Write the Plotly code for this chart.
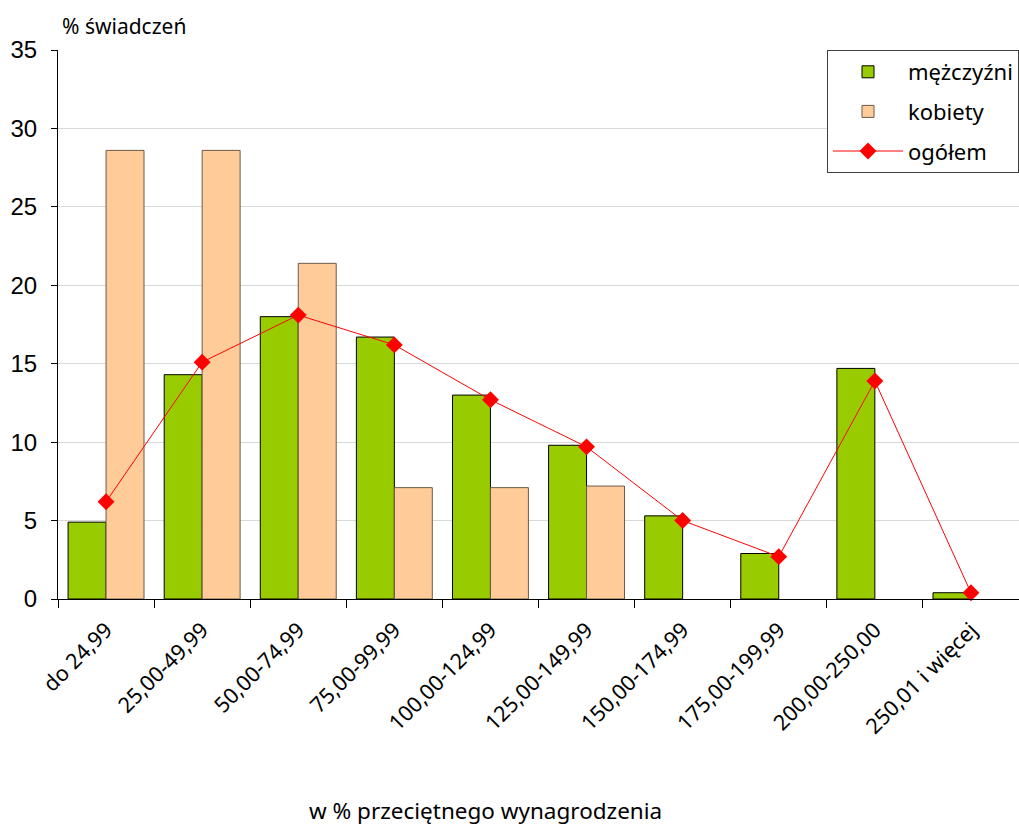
import plotly.graph_objects as go

categories = ["do 24,99", "25,00-49,99", "50,00-74,99", "75,00-99,99", "100,00-124,99",
              "125,00-149,99", "150,00-174,99", "175,00-199,99", "200,00-250,00", "250,01 i więcej"]
men = [4.9, 14.3, 18.0, 16.7, 13.0, 9.8, 5.3, 2.9, 14.7, 0.4]
women = [28.6, 28.6, 21.4, 7.1, 7.1, 7.2, None, None, None, None]
total = [6.2, 15.1, 18.1, 16.2, 12.7, 9.7, 5.0, 2.7, 13.9, 0.4]
y_ticks = [0, 5, 10, 15, 20, 25, 30, 35]

fig = go.Figure()
fig.add_trace(go.Bar(x=categories, y=men, name="mężczyźni", legendgroup="a",
                     marker=dict(color="#99CC00", line=dict(color="#000000", width=1))))
fig.add_trace(go.Bar(x=categories, y=women, name="kobiety", legendgroup="b",
                     marker=dict(color="#FFCC99", line=dict(color="#6b5a4a", width=1))))
fig.add_trace(go.Scatter(x=categories, y=total, name="ogółem", legendgroup="c", mode="lines+markers",
                         line=dict(color="#FF0000", width=1),
                         marker=dict(symbol="diamond", size=13, color="#FF0000"),
                         cliponaxis=False))

fig.update_layout(
    width=1019, height=826,
    margin=dict(l=58, r=0, t=50, b=227),
    paper_bgcolor="white", plot_bgcolor="white",
    barmode="group", bargap=0.21, bargroupgap=0,
    font=dict(family="Noto Sans", color="#000000"),
    showlegend=True,
    legend=dict(x=1, xanchor="right", y=1, yanchor="top",
                bordercolor="#404040", borderwidth=1, bgcolor="white",
                font=dict(family="Noto Sans", size=22),
                tracegroupgap=8, itemwidth=70),
    xaxis=dict(type="category", range=[-0.5, 9.5], tickangle=-45, tickson="boundaries",
               ticks="outside", ticklen=8, tickcolor="#000000",
               showline=True, linecolor="#000000", linewidth=1,
               tickfont=dict(family="Noto Sans", size=21.5),
               ticklabelstandoff=9,
               showgrid=False),
    yaxis=dict(range=[0, 35], tickvals=y_ticks, ticks="outside", ticklen=6,
               tickcolor="#000000", showline=True, linecolor="#000000", linewidth=1,
               showgrid=True, gridcolor="#d9d9d9", zeroline=False,
               ticklabelstandoff=9,
               tickfont=dict(family="Liberation Sans", size=24)),
    annotations=[
        dict(text="% świadczeń", xref="paper", yref="paper", x=0, y=1,
             xshift=2, yshift=8, xanchor="left", yanchor="bottom",
             showarrow=False, font=dict(family="Noto Sans", size=21)),
        dict(text="w % przeciętnego wynagrodzenia", xref="paper", yref="paper",
             x=0.445, y=0, yshift=-211, xanchor="center", yanchor="middle",
             showarrow=False, font=dict(family="Noto Sans", size=22.5)),
    ],
)
fig.write_html("out.html", config={"displayModeBar": False},
               post_script="document.body.style.margin='0';document.body.style.overflow='hidden';")
